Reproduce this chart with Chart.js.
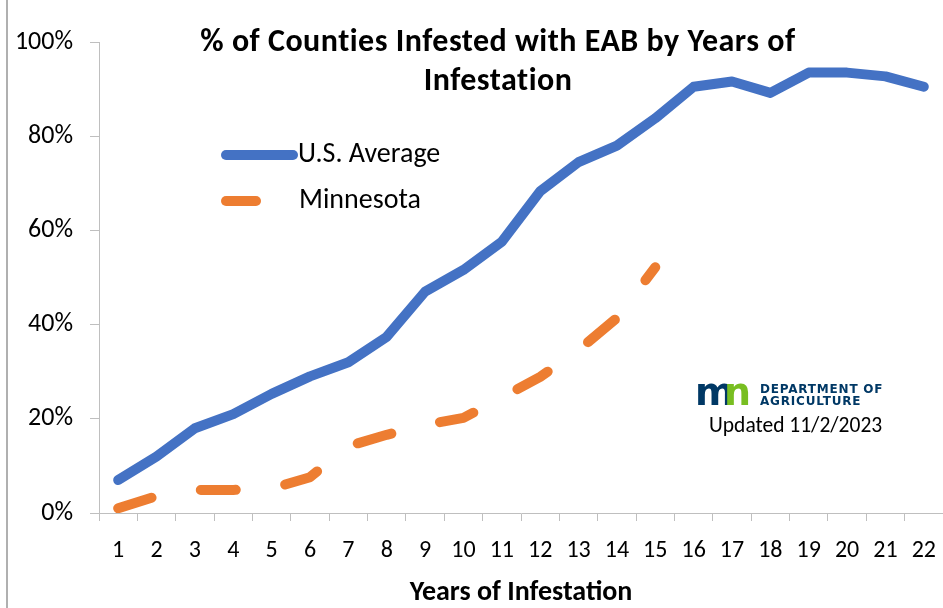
<!DOCTYPE html>
<html>
<head>
<meta charset="utf-8">
<script src="https://cdn.jsdelivr.net/npm/chart.js@4/dist/chart.umd.min.js"></script>
<style>
	html, body { margin: 0; padding: 0; background: #fff; }
</style>
</head>
<body>
<canvas id="chart" width="943" height="608"></canvas>
<script>
// values
const years = ["1", "2", "3", "4", "5", "6", "7", "8", "9", "10", "11",
	"12", "13", "14", "15", "16", "17", "18", "19", "20", "21", "22"];
const usAverage = [7, 12, 18, 21, 25.3, 29, 32, 37.4, 47, 51.6, 57.6,
	68.3, 74.5, 78, 83.8, 90.5, 91.6, 89.2, 93.5, 93.5, 92.7, 90.5];
const minnesota = [1, 3.6, 4.9, 4.9, 5.2, 7.6, 14.2, 16.6, 18.7, 20.2, 24.5,
	28.9, 34.6, 41.4, 52.2, null, null, null, null, null, null, null];
const titleLines = ["% of Counties Infested with EAB by Years of", "Infestation"];
const legendLabels = ["U.S. Average", "Minnesota"];
const xTitle = "Years of Infestation";
const updatedText = "Updated 11/2/2023";

const BLUE = "#4472C4";
const ORANGE = "#ED7D31";
const FONT = "Carlito, Calibri, Lato, sans-serif";

const overlay = {
	id: "overlay",
	afterDraw(chart) {
		let ctx = chart.ctx;
		ctx.save();

		// left frame edge
		ctx.strokeStyle = "#b0b0b0";
		ctx.lineWidth = 2;
		ctx.beginPath();
		ctx.moveTo(7, 0);
		ctx.lineTo(7, 608);
		ctx.stroke();

		// title
		ctx.fillStyle = "#000";
		ctx.textAlign = "center";
		ctx.textBaseline = "middle";
		ctx.font = "bold 32px " + FONT;
		ctx.letterSpacing = "0.5px";
		ctx.fillText(titleLines[0], 498, 43);
		ctx.fillText(titleLines[1], 498, 82);
		ctx.letterSpacing = "0px";

		// legend
		ctx.lineCap = "round";
		ctx.lineWidth = 10;
		ctx.strokeStyle = BLUE;
		ctx.beginPath();
		ctx.moveTo(226, 155);
		ctx.lineTo(293, 155);
		ctx.stroke();
		ctx.strokeStyle = ORANGE;
		ctx.beginPath();
		ctx.moveTo(226, 201);
		ctx.lineTo(256, 201);
		ctx.stroke();
		ctx.textAlign = "left";
		ctx.font = "28px " + FONT;
		ctx.fillText(legendLabels[0], 298, 155);
		ctx.fillText(legendLabels[1], 299, 201);

		// logo
		ctx.font = "bold 38px 'DejaVu Sans'";
		ctx.textBaseline = "alphabetic";
		ctx.fillStyle = "#003865";
		ctx.fillText("m", 695, 405);
		ctx.fillStyle = "#78BE21";
		ctx.fillText("n", 724, 405);
		ctx.fillStyle = "#003865";
		ctx.font = "bold 12px 'DejaVu Sans'";
		ctx.letterSpacing = "0.8px";
		ctx.fillText("DEPARTMENT OF", 760, 393);
		ctx.fillText("AGRICULTURE", 760, 405);
		ctx.letterSpacing = "0px";

		ctx.fillStyle = "#000";
		ctx.font = "21.5px " + FONT;
		ctx.textBaseline = "middle";
		ctx.fillText(updatedText, 709, 427);

		ctx.restore();
	}
};

let ctx = document.getElementById("chart").getContext("2d");
let chart = new Chart(ctx, {
	type: "line",
	data: {
		labels: years,
		datasets: [
			{
				label: legendLabels[0],
				data: usAverage,
				borderColor: BLUE,
				borderWidth: 10,
				borderCapStyle: "round",
				borderJoinStyle: "round",
				pointRadius: 0,
				tension: 0
			},
			{
				label: legendLabels[1],
				data: minnesota,
				borderColor: ORANGE,
				borderWidth: 10,
				borderCapStyle: "round",
				borderJoinStyle: "round",
				borderDash: [35, 50],
				pointRadius: 0,
				tension: 0
			}
		]
	},
	options: {
		responsive: false,
		animation: false,
		devicePixelRatio: 1,
		layout: { padding: { top: 42, left: 0, right: 0, bottom: 0 } },
		plugins: {
			legend: { display: false },
			tooltip: { enabled: false }
		},
		scales: {
			x: {
				offset: true,
				grid: { display: true, drawOnChartArea: false, offset: true, tickLength: 8, color: "#bfbfbf" },
				border: { color: "#bfbfbf", width: 1 },
				ticks: { color: "#000", font: { family: FONT, size: 24 }, padding: 16, maxRotation: 0, autoSkip: false },
				title: {
					display: true,
					text: xTitle,
					color: "#000",
					font: { family: FONT, size: 28, weight: "bold" },
					padding: { top: 0, bottom: -2 }
				},
				afterFit(scale) {
					scale.height = 95;
					scale.paddingLeft = 0;
					scale.paddingRight = 0;
				}
			},
			y: {
				min: 0,
				max: 100,
				grid: { display: true, drawOnChartArea: false, tickLength: 9, color: "#bfbfbf" },
				border: { color: "#bfbfbf", width: 1 },
				ticks: {
					stepSize: 20,
					color: "#000",
					font: { family: FONT, size: 26 },
					padding: 17,
					callback: (v) => v + "%"
				},
				afterFit(scale) { scale.width = 99; }
			}
		}
	},
	plugins: [overlay]
});
</script>
</body>
</html>
